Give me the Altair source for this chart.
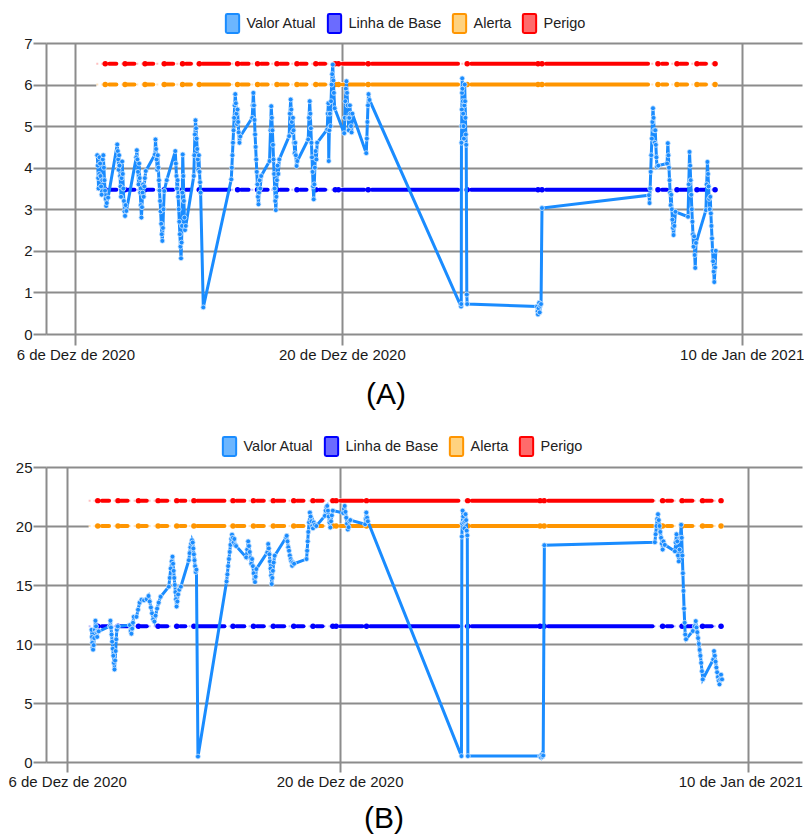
import altair as alt
import pandas as pd

ROTULOS = ["Valor Atual", "Linha de Base", "Alerta", "Perigo"]
CORES = ["#1a8cff", "#0000ff", "#ff9500", "#ff0000"]
CORES_CLARAS = ["#6cb6ff", "#6b6bff", "#ffd27f", "#ff6b6b"]

# (dias desde 6/12/2020 00:00, valor)
serie_a = [
    (1.15, 4.30), (1.18, 4.05), (1.20, 3.75), (1.22, 3.50), (1.25, 3.85), (1.27, 4.25), (1.30, 4.10),
    (1.32, 3.80), (1.35, 3.55), (1.38, 3.35), (1.41, 3.70), (1.44, 4.20), (1.47, 4.30), (1.50, 4.00),
    (1.53, 3.70), (1.56, 3.45), (1.59, 3.25), (1.62, 3.08), (1.65, 3.15), (1.72, 3.28),
    (2.20, 4.56), (2.23, 4.40), (2.25, 4.20), (2.27, 3.95), (2.30, 4.30), (2.32, 4.05), (2.35, 3.80),
    (2.37, 3.55), (2.40, 3.30), (2.43, 3.75), (2.46, 4.15), (2.49, 3.85), (2.52, 3.50), (2.55, 3.20),
    (2.58, 2.95), (2.61, 2.84), (2.64, 3.10), (2.68, 2.96),
    (3.20, 4.25), (3.23, 4.42), (3.26, 4.20), (3.29, 3.90), (3.32, 3.60), (3.35, 4.10), (3.38, 3.75),
    (3.41, 3.40), (3.44, 3.10), (3.47, 2.80), (3.50, 3.05), (3.53, 3.40), (3.56, 3.60), (3.59, 3.30),
    (3.62, 3.55), (3.65, 3.75), (3.70, 3.92),
    (4.18, 4.32), (4.21, 4.68), (4.24, 4.45), (4.27, 4.20), (4.30, 3.95), (4.33, 4.30), (4.36, 4.00),
    (4.39, 3.70), (4.42, 3.45), (4.45, 3.20), (4.48, 2.95), (4.51, 2.65), (4.54, 2.40), (4.57, 2.24),
    (4.60, 2.55), (4.63, 3.00), (4.67, 3.44), (4.80, 3.70),
    (5.25, 4.40), (5.28, 4.10), (5.31, 3.80), (5.34, 3.50), (5.37, 3.70), (5.40, 3.30), (5.43, 3.00),
    (5.46, 2.70), (5.49, 2.40), (5.52, 2.10), (5.55, 1.82), (5.58, 2.20), (5.60, 2.60), (5.62, 3.40),
    (5.64, 4.32), (5.67, 3.80), (5.70, 3.20), (5.73, 2.80), (5.76, 2.50), (5.80, 2.60),
    (6.22, 3.80), (6.25, 4.30), (6.28, 4.80), (6.31, 5.14), (6.34, 4.95), (6.37, 4.70), (6.40, 4.45),
    (6.43, 4.20), (6.46, 3.95), (6.49, 4.30), (6.52, 3.90), (6.55, 3.65), (6.58, 3.40), (6.72, 0.64),
    (8.19, 3.72), (8.22, 4.00), (8.25, 4.30), (8.28, 4.60), (8.31, 4.90), (8.34, 5.20), (8.37, 5.50),
    (8.40, 5.77), (8.43, 5.55), (8.46, 5.30), (8.49, 5.05), (8.52, 5.40), (8.55, 5.10), (8.58, 4.85),
    (8.62, 4.60), (8.66, 4.75),
    (9.29, 5.20), (9.32, 5.50), (9.35, 5.80), (9.38, 5.50), (9.41, 5.15), (9.44, 4.80), (9.47, 4.50),
    (9.50, 4.20), (9.53, 3.90), (9.56, 3.60), (9.59, 3.30), (9.62, 3.12), (9.65, 3.40), (9.68, 3.70),
    (9.71, 3.50), (9.76, 3.80),
    (10.20, 4.16), (10.25, 4.90), (10.29, 5.48), (10.32, 5.20), (10.35, 4.90), (10.38, 4.55),
    (10.41, 4.20), (10.44, 3.85), (10.47, 3.50), (10.50, 3.20), (10.53, 2.98), (10.56, 3.30),
    (10.59, 3.70), (10.62, 4.05), (10.66, 3.85), (10.71, 4.20),
    (11.23, 4.76), (11.27, 5.30), (11.31, 5.64), (11.34, 5.40), (11.37, 5.10), (11.40, 4.85),
    (11.43, 5.20), (11.46, 4.90), (11.49, 4.60), (11.52, 4.35), (11.55, 4.60), (11.58, 4.30),
    (11.62, 4.04), (11.66, 4.16),
    (12.23, 4.68), (12.27, 5.20), (12.31, 5.60), (12.34, 5.30), (12.37, 4.95), (12.40, 4.60),
    (12.43, 4.25), (12.46, 3.90), (12.49, 3.55), (12.52, 3.24), (12.55, 3.60), (12.58, 4.00),
    (12.62, 4.40), (12.66, 4.20), (12.70, 4.60),
    (13.23, 4.92), (13.26, 5.30), (13.29, 5.55), (13.31, 4.16), (13.34, 4.90), (13.37, 5.30),
    (13.40, 5.00), (13.43, 5.60), (13.46, 6.00), (13.49, 6.25), (13.52, 6.48), (13.55, 6.10),
    (13.58, 5.80), (13.62, 5.43),
    (14.12, 4.83), (14.15, 5.20), (14.18, 5.60), (14.21, 5.90), (14.24, 6.08), (14.27, 5.80),
    (14.30, 5.50), (14.33, 5.20), (14.36, 4.90), (14.39, 5.20), (14.42, 5.50), (14.45, 5.30),
    (14.48, 5.00), (14.51, 4.85), (14.55, 5.30),
    (15.28, 4.35), (15.31, 4.70), (15.34, 5.10), (15.37, 5.50), (15.40, 5.77), (15.45, 5.63),
    (20.26, 0.66), (20.27, 0.72), (20.28, 4.60), (20.29, 5.00), (20.30, 5.40), (20.31, 5.80),
    (20.32, 6.15), (20.33, 5.90), (20.35, 5.60), (20.37, 5.30), (20.39, 5.00), (20.41, 4.70),
    (20.43, 5.50), (20.45, 6.00), (20.47, 5.60), (20.49, 5.20), (20.51, 4.80), (20.53, 4.55),
    (20.56, 0.95), (20.58, 0.72),
    (24.25, 0.66), (24.28, 0.55), (24.30, 0.47), (24.33, 0.62), (24.36, 0.75), (24.39, 0.52),
    (24.42, 0.68), (24.46, 0.72), (24.51, 3.03),
    (30.13, 3.34), (30.16, 3.15), (30.19, 3.50), (30.22, 3.90), (30.25, 4.30), (30.28, 4.70),
    (30.31, 5.10), (30.34, 5.43), (30.37, 5.20), (30.40, 4.90), (30.43, 4.60), (30.46, 4.90),
    (30.49, 4.55), (30.52, 4.25), (30.55, 4.02), (30.62, 4.05),
    (31.08, 4.10), (31.12, 4.59), (31.15, 4.30), (31.18, 4.00), (31.21, 3.70), (31.24, 3.40),
    (31.27, 3.10), (31.30, 3.35), (31.33, 3.00), (31.36, 2.75), (31.39, 2.55), (31.42, 2.38),
    (31.46, 2.60), (31.52, 2.94),
    (32.18, 2.82), (32.22, 3.60), (32.26, 4.38), (32.29, 4.05), (32.32, 3.70), (32.35, 3.35),
    (32.38, 3.00), (32.41, 2.70), (32.44, 2.40), (32.47, 2.10), (32.50, 2.35), (32.53, 1.90),
    (32.56, 1.59), (32.60, 2.19),
    (33.12, 2.98), (33.16, 3.60), (33.20, 4.14), (33.23, 3.85), (33.26, 3.55), (33.29, 3.25),
    (33.32, 3.00), (33.35, 3.30), (33.38, 2.90), (33.41, 2.60), (33.44, 2.30), (33.47, 2.00),
    (33.50, 1.75), (33.53, 1.50), (33.56, 1.25), (33.60, 1.60), (33.64, 2.00),
]

serie_b = [
    (1.25, 11.20), (1.27, 10.60), (1.29, 10.10), (1.31, 9.70), (1.33, 9.52), (1.36, 9.90), (1.39, 10.50),
    (1.42, 11.20), (1.45, 11.97), (1.48, 11.50), (1.51, 11.00), (1.54, 10.60), (1.57, 11.10), (1.62, 11.07),
    (2.19, 11.50), (2.22, 11.97), (2.25, 11.40), (2.28, 10.80), (2.31, 10.20), (2.34, 9.60), (2.37, 9.00),
    (2.40, 8.40), (2.43, 7.84), (2.46, 8.60), (2.49, 9.40), (2.52, 10.40), (2.55, 11.20), (2.60, 11.49),
    (3.22, 11.60), (3.26, 11.10), (3.30, 10.87), (3.34, 11.30), (3.38, 11.80), (3.42, 12.30),
    (3.56, 12.30), (3.64, 12.90), (3.72, 13.50), (3.82, 13.75), (3.95, 13.70), (4.08, 13.80),
    (4.18, 14.07), (4.24, 13.60), (4.30, 13.10), (4.36, 12.60), (4.42, 12.10), (4.48, 11.90),
    (4.54, 12.40), (4.62, 13.00), (4.70, 13.50), (4.80, 14.00),
    (5.22, 14.86), (5.27, 15.60), (5.32, 16.40), (5.37, 17.00), (5.41, 17.40), (5.44, 16.80),
    (5.47, 16.20), (5.50, 15.60), (5.53, 15.00), (5.56, 14.40), (5.59, 13.80), (5.62, 13.17),
    (5.66, 13.60), (5.70, 14.20), (5.76, 14.60), (5.84, 14.86),
    (6.25, 17.10), (6.29, 17.70), (6.33, 18.20), (6.37, 18.50), (6.41, 18.80), (6.45, 18.60),
    (6.48, 18.10), (6.51, 17.60), (6.54, 17.10), (6.57, 16.60), (6.60, 16.10), (6.64, 16.30),
    (6.72, 0.46),
    (8.19, 15.30), (8.23, 15.90), (8.27, 16.60), (8.31, 17.20), (8.35, 17.80), (8.39, 18.40),
    (8.43, 18.90), (8.47, 19.27), (8.51, 19.00), (8.55, 18.60), (8.59, 18.90), (8.63, 18.40),
    (8.68, 18.30),
    (9.20, 17.34), (9.25, 18.00), (9.30, 18.70), (9.34, 18.30), (9.38, 17.80), (9.42, 17.30),
    (9.46, 16.80), (9.50, 17.20), (9.54, 16.60), (9.58, 16.00), (9.62, 15.50), (9.65, 15.25),
    (9.68, 15.70), (9.72, 16.35),
    (10.28, 17.76), (10.33, 18.47), (10.36, 18.10), (10.39, 17.60), (10.42, 17.00), (10.45, 16.40),
    (10.48, 15.80), (10.51, 15.08), (10.54, 15.60), (10.57, 16.20), (10.61, 16.90), (10.66, 17.48),
    (11.25, 19.03), (11.28, 19.17), (11.32, 18.70), (11.36, 18.20), (11.40, 17.90), (11.44, 17.50),
    (11.48, 17.20), (11.52, 17.00), (11.56, 16.63), (11.60, 16.90), (11.66, 16.80),
    (12.30, 17.20), (12.33, 17.90), (12.36, 18.70), (12.39, 19.50), (12.43, 20.30), (12.47, 21.14),
    (12.51, 20.80), (12.55, 20.40), (12.59, 20.00), (12.63, 19.80), (12.67, 20.30), (12.72, 20.10),
    (12.80, 20.00),
    (13.24, 20.86), (13.28, 21.30), (13.32, 21.60), (13.36, 21.70), (13.40, 21.30), (13.44, 20.80),
    (13.48, 20.30), (13.52, 19.87), (13.56, 20.40), (13.60, 20.90), (13.65, 21.30),
    (14.18, 21.10), (14.22, 21.45), (14.26, 21.70), (14.30, 21.20), (14.34, 20.70), (14.38, 20.20),
    (14.42, 19.70), (14.46, 19.90), (14.50, 20.40), (14.55, 20.50),
    (15.31, 20.15), (15.34, 20.60), (15.37, 21.14), (15.41, 20.70), (15.45, 20.40),
    (20.26, 0.50), (20.28, 19.10), (20.30, 20.20), (20.32, 21.30), (20.35, 20.80), (20.38, 20.30),
    (20.41, 19.80), (20.44, 20.40), (20.47, 21.00), (20.50, 20.50), (20.53, 19.60), (20.56, 19.20),
    (20.59, 0.50),
    (24.30, 0.50), (24.34, 0.40), (24.38, 0.60), (24.42, 0.45), (24.46, 0.55), (24.52, 18.37),
    (30.20, 18.62), (30.24, 19.30), (30.28, 20.00), (30.32, 20.60), (30.36, 21.00), (30.40, 20.50),
    (30.44, 20.00), (30.48, 19.50), (30.52, 19.00), (30.56, 18.50), (30.60, 18.00), (30.64, 18.70),
    (30.71, 18.40),
    (31.23, 17.86), (31.27, 18.60), (31.31, 19.30), (31.35, 18.70), (31.39, 17.50), (31.43, 17.00),
    (31.47, 18.00), (31.51, 19.00), (31.55, 20.10), (31.58, 19.00), (31.61, 17.50), (31.64, 16.00),
    (31.67, 14.50), (31.70, 13.00), (31.73, 11.80), (31.76, 10.80), (31.80, 10.40),
    (32.15, 11.10), (32.25, 11.50), (32.30, 11.94), (32.34, 11.40), (32.38, 11.00), (32.42, 10.50),
    (32.46, 10.00), (32.50, 9.50), (32.54, 9.00), (32.58, 8.40), (32.62, 7.70), (32.66, 7.00),
    (33.20, 8.69), (33.24, 9.40), (33.28, 9.00), (33.32, 8.50), (33.36, 8.00), (33.40, 7.60),
    (33.44, 7.20), (33.48, 6.90), (33.52, 6.58), (33.56, 7.00), (33.60, 7.40), (33.65, 7.00),
]

# trechos das linhas de referencia (dias desde 6/12/2020)
inicio_trecho = [1.57, 1.78, 2.61, 2.75, 3.66, 3.80, 4.67, 4.81, 5.63, 5.81, 6.51, 6.68, 8.52, 8.70,
                 9.57, 9.75, 10.59, 10.76, 11.64, 11.81, 12.63, 12.81, 13.65, 13.82, 14.03, 15.38,
                 15.57, 20.58, 20.79, 24.30, 24.51, 24.72, 30.60, 30.81, 31.60, 31.76, 32.65,
                 32.81, 33.60]
fim_trecho = [1.57, 2.15, 2.61, 3.10, 3.66, 4.09, 4.67, 5.14, 5.63, 6.07, 6.51, 8.08, 8.52, 9.10,
              9.57, 10.10, 10.59, 11.15, 11.64, 12.14, 12.63, 13.12, 13.65, 13.82, 15.17, 15.38,
              20.10, 20.58, 24.15, 24.30, 24.51, 30.08, 30.60, 31.08, 31.60, 32.13, 32.65,
              33.12, 33.60]
faixa_total = [1.10, 33.75]

limites_a = [3.47, 6.0, 6.5]      # Linha de Base, Alerta, Perigo
limites_b = [11.5, 20.0, 22.15]

BASE = pd.Timestamp("2020-12-06")


def tempo(d):
    return BASE + pd.to_timedelta(d, unit="D")


MESES = "['Jan','Fev','Mar','Abr','Mai','Jun','Jul','Ago','Set','Out','Nov','Dez']"
LABEL_EXPR = ("date(datum.value) + ' de ' + " + MESES +
              "[month(datum.value)] + ' de ' + year(datum.value)")
TICKS_X = [alt.DateTime(year=2020, month=12, date=6),
           alt.DateTime(year=2020, month=12, date=20),
           alt.DateTime(year=2021, month=1, date=10)]

SIMBOLO = ("M-0.55,-1L0.55,-1Q0.7,-1 0.7,-0.85L0.7,0.85Q0.7,1 0.55,1L-0.55,1"
           "Q-0.7,1 -0.7,0.85L-0.7,-0.85Q-0.7,-1 -0.55,-1Z")


def painel(serie, limites, dominio, largura, altura, ymax, ystep, titulo,
           legx, legy, dx, offset_titulo, tick_x, desloc_jan):
    df_v = pd.DataFrame({"t": [tempo(d) for d, _ in serie],
                         "v": [v for _, v in serie],
                         "serie": "Valor Atual"})
    linhas = []
    pontos = []
    for k, (s, e) in enumerate(zip(inicio_trecho, fim_trecho)):
        for nome, val in zip(ROTULOS[1:], limites):
            if e > s:
                linhas.append({"t": tempo(s), "v": val, "serie": nome, "seg": k})
                linhas.append({"t": tempo(e), "v": val, "serie": nome, "seg": k})
            else:
                pontos.append({"t": tempo(s), "v": val, "serie": nome})
    df_l = pd.DataFrame(linhas)
    df_p = pd.DataFrame(pontos)
    df_f = pd.DataFrame([{"t": tempo(d), "v": val, "serie": nome}
                         for nome, val in zip(ROTULOS[1:], limites) for d in faixa_total])
    df_leg = pd.DataFrame({"serie": ROTULOS})

    x = alt.X("t:T", scale=alt.Scale(domain=dominio),
              axis=alt.Axis(values=TICKS_X, labelExpr=LABEL_EXPR, title=None, grid=True,
                            tickSize=tick_x, domain=False, labelFlush=False,
                            labelOverlap=False, labelPadding=2,
                            labelOffset={"condition": {"test": "year(datum.value) == 2021",
                                                       "value": desloc_jan},
                                         "value": 0}))
    y = alt.Y("v:Q", scale=alt.Scale(domain=[0, ymax], nice=False),
              axis=alt.Axis(values=list(range(0, ymax + 1, ystep)), title=None, grid=True,
                            tickSize=13, domain=True, labelPadding=1))
    # escala de cor so das linhas de referencia (dominio diferente da legenda)
    cor = alt.Color("serie:N", scale=alt.Scale(domain=ROTULOS[1:], range=CORES[1:]), legend=None)

    fundo = alt.Chart(df_f).mark_line(color="white", strokeWidth=5).encode(
        x=x, y=y, detail="serie:N")
    tenue = alt.Chart(df_f).mark_line(strokeWidth=2, strokeDash=[2, 3], opacity=0.25).encode(
        x=x, y=y, color=cor)
    lim_linha = alt.Chart(df_l).mark_line(strokeWidth=4, strokeCap="round").encode(
        x=x, y=y, color=cor, detail="seg:N")
    lim_pontos = alt.Chart(df_p).mark_circle(size=30, opacity=1).encode(
        x=x, y=y, color=cor)
    val_linha = alt.Chart(df_v).mark_line(strokeWidth=3, color=CORES[0]).encode(x=x, y=y)
    val_pontos = alt.Chart(df_v).mark_circle(
        size=24, color=CORES[0], opacity=1, stroke="#cfe7ff", strokeWidth=0.8).encode(x=x, y=y)

    leg_props = dict(orient="none", legendX=legx, legendY=legy, direction="horizontal",
                     title=None, symbolType=SIMBOLO, symbolSize=361, symbolStrokeWidth=2,
                     symbolOpacity=1,
                     labelFont="Liberation Sans", labelFontSize=14.5, labelColor="#222222",
                     labelOffset=3.5, columnPadding=6, padding=0)
    legenda = alt.Chart(df_leg).mark_point(filled=True, opacity=0).encode(
        fill=alt.Fill("serie:N", scale=alt.Scale(domain=ROTULOS, range=CORES_CLARAS),
                      legend=alt.Legend(**leg_props)),
        stroke=alt.Stroke("serie:N", scale=alt.Scale(domain=ROTULOS, range=CORES),
                          legend=alt.Legend(**leg_props)),
    )

    return alt.layer(fundo, tenue, lim_linha, lim_pontos, val_linha, val_pontos, legenda).properties(
        width=largura, height=altura,
        title=alt.TitleParams(titulo, orient="bottom", anchor="middle", frame="group",
                              fontSize=30, font="Liberation Sans", fontWeight="normal",
                              color="black", dx=dx, offset=offset_titulo),
    )


dom_a = [alt.DateTime(year=2020, month=12, date=4, hours=11),
         alt.DateTime(year=2021, month=1, date=13, hours=4)]
dom_b = [alt.DateTime(year=2020, month=12, date=4, hours=21, minutes=50),
         alt.DateTime(year=2021, month=1, date=12, hours=18, minutes=15)]

painel_a = painel(serie_a, limites_a, dom_a, 756, 291, 7, 1, "(A)", 176, -30, -38, 18, 11, 0)
painel_b = painel(serie_b, limites_b, dom_b, 756, 295, 25, 5, "(B)", 173, -31, -40, 15, 10, -8)

chart = alt.vconcat(painel_a, painel_b, spacing=26).resolve_scale(
    color="independent", fill="independent", stroke="independent"
).resolve_legend(
    color="independent", fill="independent", stroke="independent"
).properties(
    padding={"left": 0, "top": 5, "right": 0, "bottom": 0}
).configure_view(strokeWidth=0).configure_axis(
    gridColor="#8c8c8c", gridWidth=2, tickColor="#8c8c8c", tickWidth=2,
    domainColor="#8c8c8c", domainWidth=2, labelFont="Liberation Sans",
    labelFontSize=15, labelColor="#1a1a1a",
)

chart.save("out.html", embed_options={"renderer": "svg", "actions": False})
